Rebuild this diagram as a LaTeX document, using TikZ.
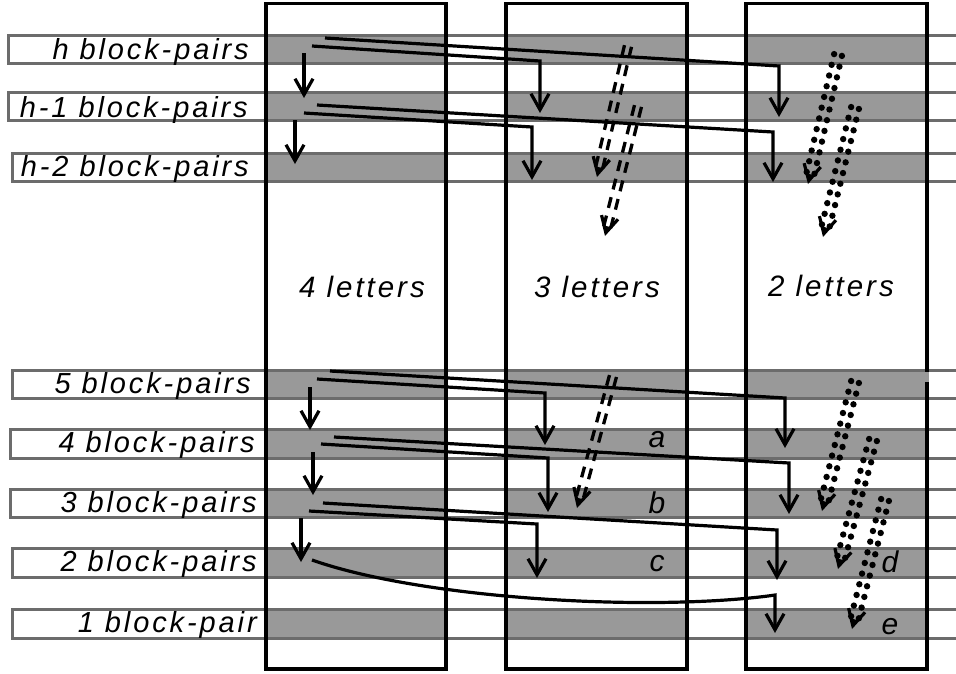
\documentclass[tikz,border=0pt]{standalone}
\usepackage{fontspec}
\newfontfamily\labfont{Liberation Sans}[LetterSpace=10]
\usetikzlibrary{arrows.meta,calc}
\definecolor{bandgray}{RGB}{153,153,153}
\definecolor{edgegray}{RGB}{108,108,108}
\newcommand\bandfill[3]{%
  \fill[white] (#1,#2) rectangle (960,#3);
  \fill[bandgray] (266,#2) rectangle (446,#3);
  \fill[bandgray] (506,#2) rectangle (687,#3);
  \fill[bandgray] (746,#2) rectangle (927,#3);
}
\newcommand\bandedge[3]{\draw[bandline] (#1,#2) rectangle (962,#3);}
\newcommand\dblarrow[4]{%
  \coordinate (tmpE) at ($(#3)!7pt!(#2)$);
  \draw[#1] ($(#2)!#4!90:(#3)$) -- ($(tmpE)!#4!-90:(#2)$);
  \draw[#1] ($(#2)!#4!-90:(#3)$) -- ($(tmpE)!#4!90:(#2)$);
  \draw[tipv] ($(#3)!10pt!(#2)$) -- (#3);
}
\tikzset{
  bandline/.style={draw=edgegray, line width=3pt},
  colbox/.style={draw=black, line width=3.4pt},
  conn/.style={line width=3.2pt, line join=miter, -{Straight Barb[length=16pt,width=18pt]}},
  tipv/.style={line width=3.2pt, -{Straight Barb[length=16pt,width=17pt]}},
  dashline/.style={line width=3.3pt, dash pattern=on 11pt off 8pt},
  dotline/.style={line width=6.4pt, line cap=round, dash pattern=on 0pt off 11pt},
  rowlab/.style={font=\labfont\itshape\fontsize{29}{31}\selectfont, inner sep=0pt, anchor=base east},
  collab/.style={font=\labfont\itshape\fontsize{29.5}{31}\selectfont, inner sep=0pt, anchor=base},
  marklab/.style={font=\labfont\itshape\fontsize{30}{32}\selectfont, inner sep=0pt, anchor=base}
}
\begin{document}
\begin{tikzpicture}[x=1pt,y=-1pt]
\useasboundingbox (0,0) rectangle (956,673);
\fill[white] (0,0) rectangle (956,673);
% bands
\bandfill{8}{35}{63}
\bandfill{8}{92}{120}
\bandfill{12}{153}{181}
\bandfill{12}{370}{398}
\bandfill{10}{429}{458}
\bandfill{10}{489}{517}
\bandfill{12}{548}{577}
\bandfill{12}{609}{638}
\bandedge{8}{35}{63}
\bandedge{8}{92}{120}
\bandedge{12}{153}{181}
\bandedge{12}{370}{398}
\bandedge{10}{429}{458}
\bandedge{10}{489}{517}
\bandedge{12}{548}{577}
\bandedge{12}{609}{638}
% columns
\draw[colbox] (266,3.5) rectangle (446,669);
\draw[colbox] (506,3.5) rectangle (687,669);
\draw[colbox] (746,3.5) rectangle (927,669);
\fill[bandgray] (925,371.5) rectangle (929,382);
% row labels
\node[rowlab] (lh)  at (249,59)  {h block-pairs};
\node[rowlab] (lh1) at (248,117) {h-1 block-pairs};
\node[rowlab] (lh2) at (249,176) {h-2 block-pairs};
\node[rowlab] (l5)  at (251,393) {5 block-pairs};
\node[rowlab] (l4)  at (255,452) {4 block-pairs};
\node[rowlab] (l3)  at (257,512) {3 block-pairs};
\node[rowlab] (l2)  at (257,571) {2 block-pairs};
\node[rowlab] (l1)  at (257,632) {1 block-pair};
% column labels
\node[collab] (c4) at (362,297) {4 letters};
\node[collab] (c3) at (597,297) {3 letters};
\node[collab] (c2) at (831,296) {2 letters};
% marks
\node[marklab] (ma) at (657,447) {a};
\node[marklab] (mb) at (657,513) {b};
\node[marklab] (mc) at (657,571) {c};
\node[marklab] (md) at (890,572) {d};
\node[marklab] (me) at (890,634) {e};
% coordinates, top section
\coordinate (hU) at (325,38);  \coordinate (hUc) at (779,66);  \coordinate (hUe) at (779,117);
\coordinate (hL) at (312,46);  \coordinate (hLc) at (540,61);  \coordinate (hLe) at (540,113);
\coordinate (hV) at (304,53);  \coordinate (hVe) at (304,98);
\coordinate (h1U) at (317,105); \coordinate (h1Uc) at (773,132); \coordinate (h1Ue) at (773,182);
\coordinate (h1L) at (304,113); \coordinate (h1Lc) at (532,127); \coordinate (h1Le) at (532,180);
\coordinate (h1V) at (295,120); \coordinate (h1Ve) at (295,164);
\draw[conn] (hU) -- (hUc) -- (hUe);
\draw[conn] (hL) -- (hLc) -- (hLe);
\draw[conn] (hV) -- (hVe);
\draw[conn] (h1U) -- (h1Uc) -- (h1Ue);
\draw[conn] (h1L) -- (h1Lc) -- (h1Le);
\draw[conn] (h1V) -- (h1Ve);
\coordinate (d1a) at (628,46); \coordinate (d1b) at (597,177);
\coordinate (d2a) at (638,106); \coordinate (d2b) at (605,236);
\dblarrow{dashline}{d1a}{d1b}{3.6pt}
\dblarrow{dashline}{d2a}{d2b}{3.6pt}
\coordinate (t1a) at (838,55); \coordinate (t1b) at (808,184);
\coordinate (t2a) at (855,108); \coordinate (t2b) at (823,237);
\dblarrow{dotline}{t1a}{t1b}{4pt}
\dblarrow{dotline}{t2a}{t2b}{4pt}
% lower section
\coordinate (r5U) at (330,371); \coordinate (r5Uc) at (785,398); \coordinate (r5Ue) at (785,448);
\coordinate (r5L) at (317,379); \coordinate (r5Lc) at (545,393); \coordinate (r5Le) at (545,445);
\coordinate (r5V) at (310,387); \coordinate (r5Ve) at (310,430);
\coordinate (r4U) at (334,437); \coordinate (r4Uc) at (789,463); \coordinate (r4Ue) at (789,514);
\coordinate (r4L) at (321,444); \coordinate (r4Lc) at (548,458); \coordinate (r4Le) at (548,512);
\coordinate (r4V) at (313,452); \coordinate (r4Ve) at (313,495);
\coordinate (r3U) at (323,503); \coordinate (r3Uc) at (777,530); \coordinate (r3Ue) at (777,580);
\coordinate (r3L) at (309,511); \coordinate (r3Lc) at (537,524); \coordinate (r3Le) at (537,578);
\coordinate (r3V) at (301,518); \coordinate (r3Ve) at (301,562);
\coordinate (r2S) at (312,560); \coordinate (r2c) at (768,596); \coordinate (r2k) at (775,595); \coordinate (r2e) at (775,633);
\draw[conn] (r5U) -- (r5Uc) -- (r5Ue);
\draw[conn] (r5L) -- (r5Lc) -- (r5Le);
\draw[conn] (r5V) -- (r5Ve);
\draw[conn] (r4U) -- (r4Uc) -- (r4Ue);
\draw[conn] (r4L) -- (r4Lc) -- (r4Le);
\draw[conn] (r4V) -- (r4Ve);
\draw[conn] (r3U) -- (r3Uc) -- (r3Ue);
\draw[conn] (r3L) -- (r3Lc) -- (r3Le);
\draw[conn] (r3V) -- (r3Ve);
\draw[conn] (r2S) .. controls (420,598) and (640,612) .. (r2c) -- (r2k) -- (r2e);
\coordinate (d3a) at (613,376); \coordinate (d3b) at (577,508);
\dblarrow{dashline}{d3a}{d3b}{3.6pt}
\coordinate (t3a) at (855,382); \coordinate (t3b) at (822,511);
\coordinate (t4a) at (873,440); \coordinate (t4b) at (838,569);
\coordinate (t5a) at (885,500); \coordinate (t5b) at (852,629);
\dblarrow{dotline}{t3a}{t3b}{4pt}
\dblarrow{dotline}{t4a}{t4b}{4pt}
\dblarrow{dotline}{t5a}{t5b}{4pt}
\end{tikzpicture}
\end{document}
